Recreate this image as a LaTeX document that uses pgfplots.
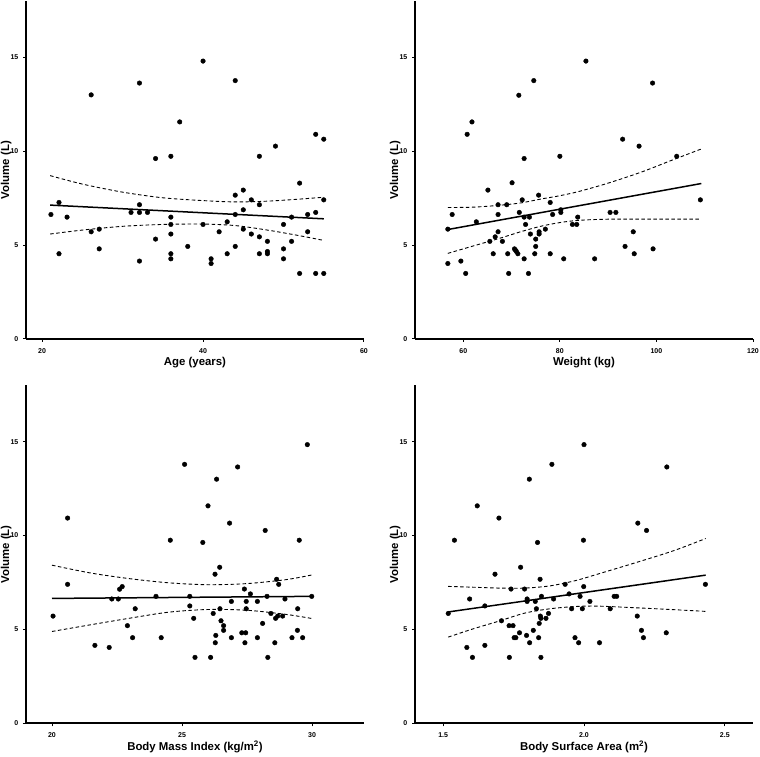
\documentclass[border=0pt]{standalone}
\usepackage{pgfplots}
\pgfplotsset{compat=1.18}
\usepackage{fontspec}
\setmainfont{Liberation Sans}
\newcommand{\lblfont}{\fontsize{11.4}{13}\selectfont\bfseries}
\newcommand{\tckfont}{\fontsize{7}{8}\selectfont\bfseries}
\pgfplotsset{
  panel/.style={
    scale only axis, width=338pt, height=338pt,
    axis x line*=bottom, axis y line*=left,
    axis line style={-, line width=1.7pt},
    ymin=0, ymax=18, ytick={0,5,10,15},
    tick align=outside, major tick length=3pt,
    tick style={line width=1pt, black},
    /pgf/number format/assume math mode=true,
    ticklabel style={font=\tckfont},
    xticklabel style={anchor=center, yshift=-9pt},
    yticklabel style={anchor=east, inner sep=0pt, xshift=-4.5pt},
    label style={font=\lblfont},
    xlabel style={at={(axis description cs:0.5,-0.071)}, anchor=center},
    ylabel style={at={(axis description cs:-0.059,0.5)}, anchor=center},
    ylabel={Volume (L)},
    clip=false,
  },
  pts/.style={only marks, mark=*, mark size=2.3pt, black},
  fit/.style={no markers, black, line width=1.5pt},
  ci/.style={no markers, black, line width=0.9pt, dash pattern=on 3.5pt off 2.5pt, smooth},
}
\begin{document}
\begin{tikzpicture}
\useasboundingbox (0pt,0pt) rectangle (760pt,757pt);
% Panel 1: Age
\begin{axis}[panel, at={(26pt,418pt)}, anchor=south west,
  xmin=18, xmax=60, xtick={20,40,60}, xlabel={Age (years)}]
\addplot[pts] coordinates {
(21.1,6.63) (22.1,7.27) (22.1,4.54) (23.1,6.49) (26.1,13.0) (26.1,5.71) (27.1,5.85) (27.1,4.80)
(31.05,6.74) (32.1,13.63) (32.1,7.15) (32.1,6.74) (32.1,4.15) (33.1,6.74) (34.1,9.61) (34.1,5.32)
(36.0,9.73) (36.0,6.49) (36.0,6.10) (36.0,5.59) (36.0,4.54) (36.0,4.27) (37.1,11.56) (38.1,4.93)
(40.0,14.80) (40.0,6.10) (41.0,4.27) (41.0,4.02) (42.0,5.71) (43.0,6.24) (43.0,4.54) (44.0,13.76)
(44.0,7.66) (44.0,6.63) (44.0,4.93) (45.0,7.93) (45.0,6.88) (45.0,5.85) (46.0,7.41) (46.0,5.59)
(47.0,9.73) (47.0,7.15) (47.0,5.44) (47.0,4.54) (48.0,5.20) (48.0,4.66) (48.0,4.54) (49.0,10.27)
(50.0,6.10) (50.0,4.80) (50.0,4.27) (51.0,6.49) (51.0,5.20) (52.0,8.3) (52.0,3.49) (53.0,6.63)
(53.0,5.71) (54.0,10.90) (54.0,6.74) (54.0,3.49) (55.0,10.64) (55.0,7.41) (55.0,3.49)};
\addplot[fit] coordinates {(21,7.13) (55,6.40)};
\addplot[ci] coordinates {(21,8.70) (25,8.25) (30,7.82) (35,7.52) (40,7.37) (44,7.30) (48,7.34) (52,7.45) (55,7.55)};
\addplot[ci] coordinates {(21,5.59) (25,5.80) (30,6.00) (35,6.10) (40,6.12) (44,6.04) (48,5.80) (52,5.50) (55,5.25)};
\end{axis}
% Panel 2: Weight
\begin{axis}[panel, at={(415pt,418pt)}, anchor=south west,
  xmin=50, xmax=120, xtick={60,80,100,120}, xlabel={Weight (kg)}]
\addplot[pts] coordinates {
(56.8,5.85) (56.8,4.02) (57.7,6.63) (59.5,4.15) (60.5,3.49) (60.8,10.90) (61.8,11.56) (62.7,6.24)
(65.1,7.93) (65.5,5.20) (66.2,4.54) (66.6,5.44) (67.2,7.15) (67.2,6.63) (67.2,5.71) (68.1,5.20)
(69.0,7.15) (69.2,4.54) (69.4,3.49) (70.1,8.32) (70.6,4.80) (70.8,4.73) (71.0,4.66) (71.3,4.54)
(71.5,12.98) (71.6,6.74) (72.2,7.41) (72.6,9.61) (72.6,6.49) (72.6,4.27) (72.9,6.10) (73.5,3.49)
(73.7,6.49) (73.9,5.59) (74.6,13.76) (74.8,4.54) (75.0,4.93) (75.0,5.32) (75.6,7.66) (75.7,5.71)
(75.7,5.59) (77.0,5.85) (78.0,7.27) (78.0,4.54) (78.5,6.63) (80.0,9.73) (80.2,6.88) (80.2,6.74)
(80.8,4.27) (82.6,6.10) (83.5,6.10) (83.7,6.49) (85.4,14.80) (87.2,4.27) (90.4,6.74) (91.6,6.74)
(93.0,10.64) (93.5,4.93) (95.2,5.71) (95.4,4.54) (96.4,10.27) (99.2,13.63) (99.3,4.80) (104.2,9.73)
(109.1,7.41)};
\addplot[fit] coordinates {(56.8,5.83) (109.3,8.28)};
\addplot[ci] coordinates {(56.8,7.00) (62,7.02) (67.5,7.12) (72,7.25) (76,7.45) (80,7.63) (84,7.86) (90,8.30) (97,8.90) (103,9.50) (109.3,10.12)};
\addplot[ci] coordinates {(56.8,4.56) (62,4.95) (67.5,5.36) (72,5.72) (76,6.00) (80,6.20) (84,6.32) (90,6.38) (100,6.38) (109.3,6.38)};
\end{axis}
% Panel 3: BMI
\begin{axis}[panel, at={(26pt,33.7pt)}, anchor=south west,
  xmin=19, xmax=32, xtick={20,25,30}, xlabel={Body Mass Index (kg/m\textsuperscript{2})}]
\addplot[pts] coordinates {
(20.04,5.71) (20.6,10.93) (20.6,7.40) (21.65,4.15) (22.2,4.04) (22.3,6.62) (22.55,6.62) (22.6,7.14)
(22.7,7.28) (22.9,5.20) (23.1,4.56) (23.2,6.10) (24.0,6.76) (24.2,4.56) (24.55,9.75) (25.1,13.79)
(25.3,6.76) (25.3,6.25) (25.45,5.59) (25.5,3.51) (25.8,9.63) (26.0,11.58) (26.1,3.51) (26.2,5.85)
(26.27,7.94) (26.28,4.29) (26.3,4.68) (26.33,13.0) (26.45,8.31) (26.46,6.10) (26.5,5.46) (26.6,5.20)
(26.6,4.95) (26.83,10.66) (26.9,6.49) (26.9,4.56) (27.14,13.65) (27.3,4.82) (27.4,7.15) (27.42,4.29)
(27.45,4.82) (27.47,6.49) (27.47,6.10) (27.63,6.89) (27.9,6.49) (27.9,4.56) (28.1,5.32) (28.2,10.27)
(28.27,6.76) (28.3,3.51) (28.42,5.85) (28.57,4.29) (28.6,5.59) (28.64,7.67) (28.68,5.71) (28.72,7.40)
(28.87,5.71) (28.96,6.62) (29.23,4.56) (29.45,6.10) (29.44,4.95) (29.51,9.75) (29.64,4.56) (29.82,14.84)
(29.99,6.76)};
\addplot[fit] coordinates {(20,6.65) (30,6.76)};
\addplot[ci] coordinates {(20,8.42) (21.5,8.00) (23,7.70) (24.5,7.48) (26,7.38) (27.5,7.44) (29,7.65) (30,7.90)};
\addplot[ci] coordinates {(20,4.89) (21.5,5.25) (23,5.60) (24.5,5.92) (26,6.06) (27.5,6.02) (29,5.80) (30,5.58)};
\end{axis}
% Panel 4: BSA
\begin{axis}[panel, at={(415pt,33.7pt)}, anchor=south west,
  xmin=1.4, xmax=2.6, xtick={1.5,2.0,2.5},
  xticklabel style={/pgf/number format/.cd, fixed, fixed zerofill, precision=1},
  xlabel={Body Surface Area (m\textsuperscript{2})}]
\addplot[pts] coordinates {
(1.518,5.85) (1.54,9.75) (1.584,4.04) (1.594,6.62) (1.604,3.51) (1.621,11.58) (1.648,6.25) (1.648,4.15)
(1.684,7.94) (1.698,10.93) (1.707,5.46) (1.734,5.20) (1.735,3.51) (1.741,7.15) (1.748,5.20) (1.752,4.56)
(1.758,4.56) (1.771,4.82) (1.775,8.31) (1.789,7.15) (1.796,4.68) (1.798,6.62) (1.798,6.49) (1.806,13.0)
(1.807,4.29) (1.82,4.95) (1.827,6.49) (1.831,6.10) (1.835,9.63) (1.839,4.56) (1.841,5.32) (1.844,7.67)
(1.845,5.71) (1.847,5.59) (1.847,3.51) (1.849,6.76) (1.865,5.59) (1.874,5.85) (1.886,13.79) (1.892,6.62)
(1.933,7.40) (1.947,6.89) (1.956,6.10) (1.968,4.56) (1.981,4.29) (1.986,6.76) (1.994,6.10) (1.998,9.75)
(1.999,7.28) (2.0,14.84) (2.021,6.49) (2.055,4.29) (2.093,6.10) (2.107,6.76) (2.116,6.76) (2.191,10.66)
(2.189,5.71) (2.204,4.95) (2.211,4.56) (2.222,10.27) (2.292,4.82) (2.294,13.65) (2.431,7.40)};
\addplot[fit] coordinates {(1.518,5.93) (2.432,7.89)};
\addplot[ci] coordinates {(1.518,7.29) (1.6,7.25) (1.7,7.20) (1.79,7.20) (1.88,7.32) (1.97,7.60) (2.05,7.95) (2.2,8.63) (2.32,9.20) (2.432,9.84)};
\addplot[ci] coordinates {(1.518,4.59) (1.6,5.00) (1.7,5.45) (1.79,5.87) (1.88,6.10) (1.97,6.22) (2.05,6.24) (2.2,6.14) (2.32,6.05) (2.432,5.96)};
\end{axis}
\end{tikzpicture}
\end{document}
